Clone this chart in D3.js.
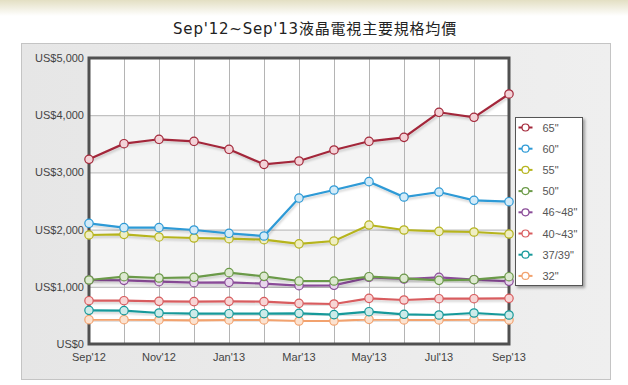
<!DOCTYPE html>
<html>
<head>
<meta charset="utf-8">
<script src="https://cdn.jsdelivr.net/npm/d3@7"></script>
<style>
  body { margin: 0; background: #fff; }
  svg { display: block; }
</style>
</head>
<body>
<div id="chart"></div>
<script>
// months on the x axis, labels shown every other month
const months = ["Sep'12","Oct'12","Nov'12","Dec'12","Jan'13","Feb'13","Mar'13","Apr'13","May'13","Jun'13","Jul'13","Aug'13","Sep'13"]
const yTicks = [0, 1000, 2000, 3000, 4000, 5000]

const seriesNames = ["65\"", "60\"", "55\"", "50\"", "46~48\"", "40~43\"", "37/39\"", "32\""]
const seriesColors = ["#a3283a", "#2e9ad6", "#b6b41e", "#6b9a48", "#8a4c98", "#d85c5e", "#17999a", "#f2a26e"]
const markerFills = ["#f3d3d8", "#d3ebf8", "#efeec4", "#dde9d1", "#e8d6ed", "#f7d5d5", "#cdebe9", "#fbe2d0"]

const v65 = [3229, 3502, 3579, 3544, 3404, 3141, 3199, 3392, 3544, 3613, 4051, 3963, 4371]
const v60 = [2110, 2034, 2034, 1993, 1935, 1888, 2552, 2692, 2838, 2570, 2657, 2512, 2488]
const v55 = [1906, 1917, 1871, 1853, 1841, 1824, 1751, 1801, 2080, 1993, 1970, 1958, 1923]
const v50 = [1119, 1177, 1154, 1166, 1247, 1183, 1101, 1101, 1177, 1148, 1113, 1124, 1177]
const v46 = [1119, 1113, 1090, 1072, 1078, 1054, 1020, 1026, 1166, 1136, 1166, 1124, 1096]
const v40 = [757, 757, 746, 740, 746, 740, 711, 699, 798, 769, 792, 792, 798]
const v37 = [589, 583, 542, 530, 530, 530, 536, 513, 565, 519, 507, 542, 507]
const v32 = [425, 425, 420, 414, 420, 420, 402, 402, 431, 420, 420, 425, 420]
const seriesValues = [v65, v60, v55, v50, v46, v40, v37, v32]

const width = 628, height = 385
const plot = {left: 89, top: 58, right: 509, bottom: 344}

const svg = d3.select("#chart").append("svg")
  .attr("width", width)
  .attr("height", height)

const defs = svg.append("defs")
const band = defs.append("linearGradient").attr("id", "topband")
  .attr("x1", 0).attr("y1", 0).attr("x2", 0).attr("y2", 1)
band.append("stop").attr("offset", "0%").attr("stop-color", "#e3dfc3")
band.append("stop").attr("offset", "100%").attr("stop-color", "#ffffff")

const panelGrad = defs.append("linearGradient").attr("id", "panel")
  .attr("x1", 0).attr("y1", 0).attr("x2", 1).attr("y2", 0)
panelGrad.append("stop").attr("offset", "0%").attr("stop-color", "#e6e6e6")
panelGrad.append("stop").attr("offset", "100%").attr("stop-color", "#efefef")

const shadow = defs.append("filter").attr("id", "shadow")
  .attr("x", "-10%").attr("y", "-10%").attr("width", "130%").attr("height", "130%")
shadow.append("feDropShadow").attr("dx", 2).attr("dy", 2).attr("stdDeviation", 1.5)
  .attr("flood-color", "#000").attr("flood-opacity", 0.35)

const lineShadow = defs.append("filter").attr("id", "lshadow")
  .attr("x", "-5%").attr("y", "-20%").attr("width", "110%").attr("height", "140%")
lineShadow.append("feDropShadow").attr("dx", 1).attr("dy", 2).attr("stdDeviation", 1)
  .attr("flood-color", "#000").attr("flood-opacity", 0.18)

svg.append("rect").attr("width", width).attr("height", 16).attr("fill", "url(#topband)")

svg.append("text")
  .attr("x", 315).attr("y", 34)
  .attr("text-anchor", "middle")
  .attr("font-family", "DejaVu Sans, 'Noto Sans CJK TC', sans-serif")
  .attr("font-size", 15)
  .attr("letter-spacing", 0.8)
  .attr("fill", "#222")
  .text("Sep'12~Sep'13液晶電視主要規格均價")

svg.append("rect")
  .attr("x", 21.5).attr("y", 43.5).attr("width", 589).attr("height", 336)
  .attr("fill", "url(#panel)").attr("stroke", "#c4c4c4")

const x = d3.scalePoint().domain(months).range([plot.left, plot.right])
const y = d3.scaleLinear().domain([0, 5000]).range([plot.bottom, plot.top])

// plot background with alternating bands
svg.append("rect")
  .attr("x", plot.left).attr("y", plot.top)
  .attr("width", plot.right - plot.left).attr("height", plot.bottom - plot.top)
  .attr("fill", "#fff")
svg.append("g").selectAll("rect")
  .data([3000, 1000])
  .join("rect")
  .attr("x", plot.left).attr("width", plot.right - plot.left)
  .attr("y", d => y(d + 1000)).attr("height", d => y(d) - y(d + 1000))
  .attr("fill", "#f4f4f4")

// grid
svg.append("g")
  .attr("transform", `translate(0,${plot.bottom})`)
  .call(d3.axisBottom(x).tickSize(-(plot.bottom - plot.top)).tickFormat(""))
  .call(g => g.select(".domain").remove())
  .call(g => g.selectAll("line").attr("stroke", "#b4b4b4"))

svg.append("g")
  .attr("transform", `translate(${plot.left},0)`)
  .call(d3.axisLeft(y).tickValues(yTicks).tickSize(-(plot.right - plot.left)).tickFormat(""))
  .call(g => g.select(".domain").remove())
  .call(g => g.selectAll("line").attr("stroke", "#b4b4b4"))

// frame
svg.append("rect")
  .attr("x", plot.left).attr("y", plot.top)
  .attr("width", plot.right - plot.left).attr("height", plot.bottom - plot.top)
  .attr("fill", "none").attr("stroke", "#505050").attr("stroke-width", 3)

// axis labels
svg.append("g").selectAll("text")
  .data(yTicks)
  .join("text")
  .attr("x", 84).attr("y", d => y(d) + 4)
  .attr("text-anchor", "end")
  .attr("font-family", "Liberation Sans, Arial, sans-serif")
  .attr("font-size", 11)
  .attr("fill", "#444")
  .text(d => "US$" + d3.format(",")(d))

svg.append("g").selectAll("text")
  .data(months.filter((m, i) => i % 2 == 0))
  .join("text")
  .attr("x", d => x(d)).attr("y", 361)
  .attr("text-anchor", "middle")
  .attr("font-family", "Liberation Sans, Arial, sans-serif")
  .attr("font-size", 11)
  .attr("fill", "#444")
  .text(d => d)

// series, drawn bottom to top so 65" ends up on top
const line = d3.line().x((d, i) => x(months[i])).y(d => y(d))
const order = d3.range(seriesNames.length).reverse()

const lines = svg.append("g").attr("class", "series")
order.forEach(k => {
  const g = lines.append("g")
  g.append("path")
    .datum(seriesValues[k])
    .attr("d", line)
    .attr("fill", "none")
    .attr("stroke", seriesColors[k])
    .attr("stroke-width", 2.2)
    .attr("filter", "url(#lshadow)")
  g.selectAll("circle")
    .data(seriesValues[k])
    .join("circle")
    .attr("cx", (d, i) => x(months[i]))
    .attr("cy", d => y(d))
    .attr("r", 4.2)
    .attr("fill", markerFills[k])
    .attr("stroke", seriesColors[k])
    .attr("stroke-width", 1.2)
})

// legend
const legend = svg.append("g").attr("transform", "translate(515.5,117.5)")
legend.append("rect")
  .attr("width", 67).attr("height", 168)
  .attr("fill", "#fff").attr("stroke", "#555").attr("stroke-width", 1)
  .attr("filter", "url(#shadow)")

const items = legend.selectAll("g.item")
  .data(seriesNames)
  .join("g")
  .attr("class", "item")
  .attr("transform", (d, i) => `translate(0,${10 + i * 21.2})`)
items.append("line")
  .attr("x1", 3).attr("x2", 17)
  .attr("stroke", (d, i) => seriesColors[i]).attr("stroke-width", 2)
items.append("circle")
  .attr("cx", 10).attr("r", 3.5)
  .attr("fill", "#fff")
  .attr("stroke", (d, i) => seriesColors[i]).attr("stroke-width", 1.2)
items.append("text")
  .attr("x", 27).attr("y", 4)
  .attr("font-family", "Liberation Sans, Arial, sans-serif")
  .attr("font-size", 11)
  .attr("fill", "#555")
  .text(d => d)
</script>
</body>
</html>
